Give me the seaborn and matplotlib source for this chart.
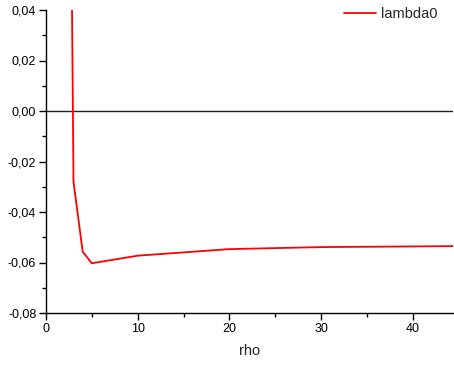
import numpy as np
import pandas as pd
import seaborn as sns
import matplotlib
matplotlib.use("Agg")
import matplotlib.pyplot as plt
from matplotlib.ticker import MultipleLocator, FuncFormatter

rho = [2.0, 3.0, 4.0, 5.0, 10.0, 20.0, 30.0, 45.0]
lambda0 = [0.397, -0.028, -0.0557, -0.0603, -0.0573, -0.0547, -0.0539, -0.0535]

sns.set_theme(style="ticks")
plt.rcParams['font.family'] = ['Liberation Sans', 'DejaVu Sans']

df = pd.DataFrame({"rho": rho, "lambda0": lambda0})

fig = plt.figure(figsize=(4.54, 3.67), dpi=100)
ax = fig.add_axes([46/454, 1-313/367, (453-46)/454, (313-10)/367])

sns.lineplot(data=df, x="rho", y="lambda0", ax=ax, color="#ff0000", lw=1.3,
             label="lambda0", sort=False)
ax.axhline(0, color="#222222", lw=1.0, zorder=1)

ax.set_xlim(0, 44.4)
ax.set_ylim(-0.08, 0.04)
ax.xaxis.set_major_locator(MultipleLocator(10))
ax.xaxis.set_minor_locator(MultipleLocator(5))
ax.yaxis.set_major_locator(MultipleLocator(0.02))
ax.yaxis.set_minor_locator(MultipleLocator(0.01))
ax.yaxis.set_major_formatter(FuncFormatter(lambda v, p: f"{v:.2f}".replace(".", ",").replace("-0,00", "0,00")))
ax.xaxis.set_major_formatter(FuncFormatter(lambda v, p: f"{v:.0f}"))

for s in ["top", "right"]:
    ax.spines[s].set_visible(False)
for s in ["left", "bottom"]:
    ax.spines[s].set_color("black")
    ax.spines[s].set_linewidth(1.0)

ax.tick_params(which="major", direction="out", length=5, width=1, color="black",
               labelsize=9, labelcolor="black", pad=2)
ax.tick_params(which="minor", direction="out", length=3, width=1, color="black")

ax.set_xlabel("rho", fontsize=10.5, labelpad=7)
ax.set_ylabel("")

leg = ax.legend(loc="upper right", frameon=False, fontsize=10.5,
                handlelength=2.2, handletextpad=0.3,
                bbox_to_anchor=(0.983, 1.04), borderaxespad=0.2)

fig.savefig("out.png", dpi=100)
